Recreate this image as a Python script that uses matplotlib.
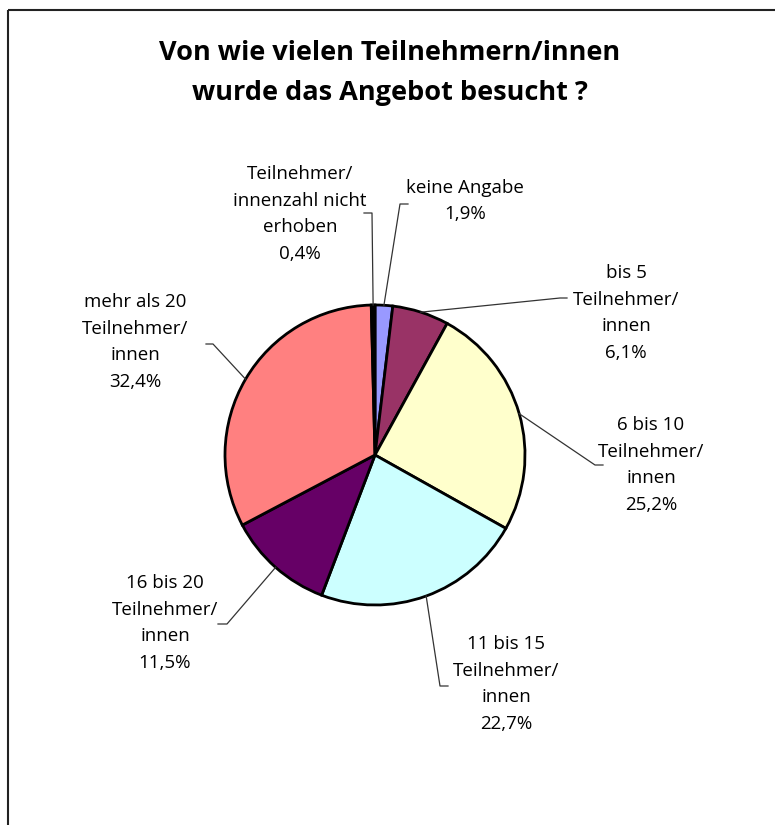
import matplotlib
matplotlib.use("Agg")
import matplotlib.pyplot as plt
import numpy as np

plt.rcParams['font.family'] = ['Open Sans', 'DejaVu Sans']

# data, clockwise from 12 o'clock
labels = [
    "keine Angabe",
    "bis 5\nTeilnehmer/\ninnen",
    "6 bis 10\nTeilnehmer/\ninnen",
    "11 bis 15\nTeilnehmer/\ninnen",
    "16 bis 20\nTeilnehmer/\ninnen",
    "mehr als 20\nTeilnehmer/\ninnen",
    "Teilnehmer/\ninnenzahl nicht\nerhoben",
]
values = [1.9, 6.1, 25.2, 22.7, 11.5, 32.4, 0.4]
colors = ["#9999FF", "#993366", "#FFFFCC", "#CCFFFF", "#660066", "#FF8080", "#000000"]

W, H = 775, 825


def Y(y):
    # pixel row -> data y (y axis points up)
    return H - y


fig = plt.figure(figsize=(W / 100, H / 100), dpi=100)
ax = fig.add_axes([0, 0, 1, 1])

cx, cy, r = 375, Y(455), 150
wedges, _ = ax.pie(values, colors=colors, startangle=90, counterclock=False,
                   center=(cx, cy), radius=r, frame=True,
                   wedgeprops=dict(edgecolor="black", linewidth=2.0))
ax.set_xlim(0, W)
ax.set_ylim(0, H)
ax.set_aspect("equal")
ax.axis("off")

# chart area frame (runs off right and bottom)
ax.plot([8, 8], [Y(10), 0], color="#222222", lw=1.5, solid_capstyle="butt")
ax.plot([8, W], [Y(10), Y(10)], color="#222222", lw=1.5, solid_capstyle="butt")

# label text centres and leader elbow / hook end (pixel coords)
label_pos = [(465, 201), (626, 313), (651, 465), (506, 684), (165, 623), (135, 342), (300, 214)]
elbows = [((400, 204), (408, 204)), ((560, 298), (567, 298)), ((595, 465), (603, 465)),
          ((440, 686), (448, 686)), ((227, 624), (218, 624)), ((213, 344), (206, 344)),
          ((372, 213), (364, 213))]

for w, lab, v, (lx, ly), (e1, e2) in zip(wedges, labels, values, label_pos, elbows):
    ang = np.deg2rad((w.theta1 + w.theta2) / 2)
    ax_, ay_ = cx + r * np.cos(ang), cy + r * np.sin(ang)
    ax.plot([ax_, e1[0], e2[0]], [ay_, Y(e1[1]), Y(e2[1])], color="#333333", lw=0.9)
    txt = lab + "\n" + f"{v:.1f}".replace(".", ",") + "%"
    ax.text(lx, Y(ly), txt, ha="center", va="center", fontsize=13.5,
            linespacing=1.6, color="black")

ax.text(390, Y(73), "Von wie vielen Teilnehmern/innen\nwurde das Angebot besucht ?",
        ha="center", va="center", fontsize=19.5, fontweight="bold", linespacing=1.72)

fig.savefig("out.png", dpi=100)
